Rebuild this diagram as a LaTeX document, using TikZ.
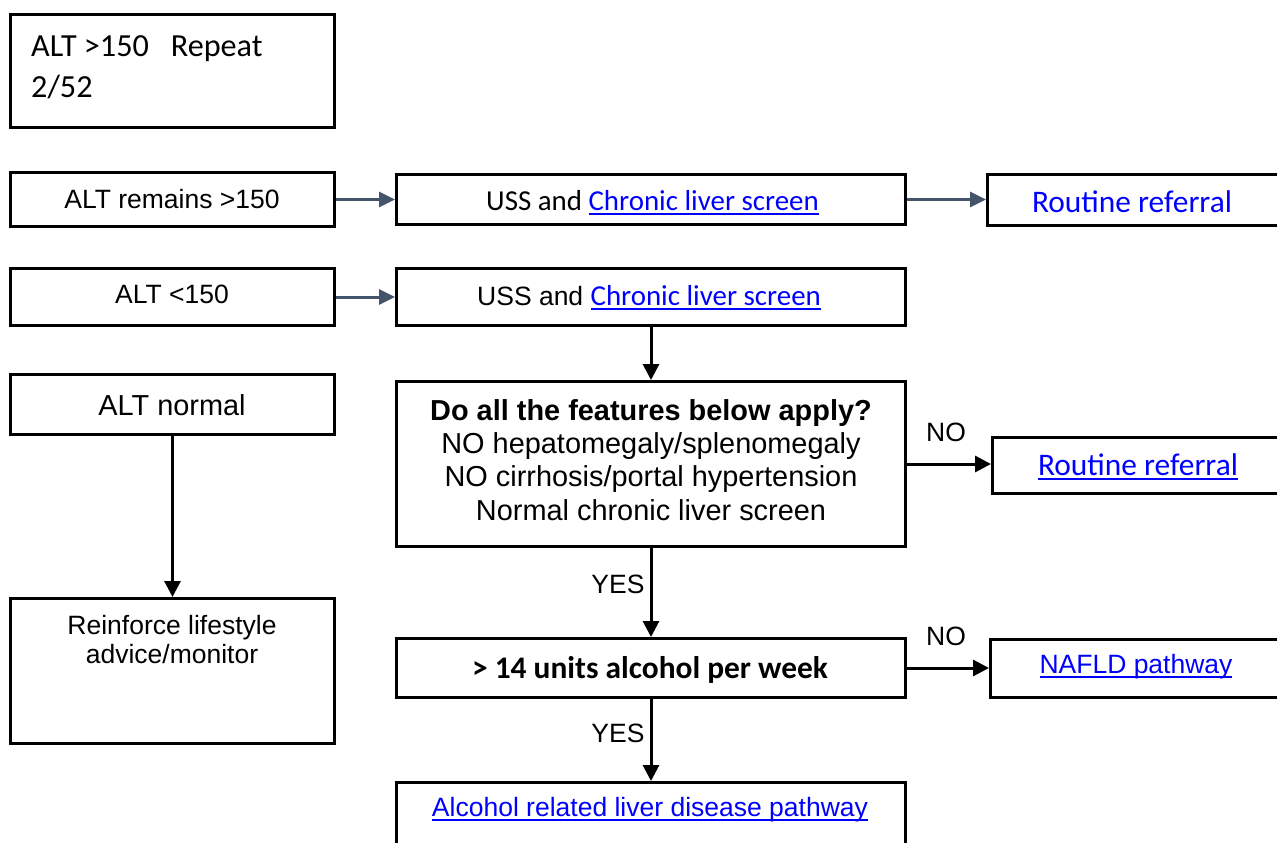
\documentclass[tikz,border=0pt]{standalone}
\usepackage{fontspec}
\newfontfamily\arialf{Liberation Sans}
\newfontfamily\calf{Carlito}
\usetikzlibrary{arrows.meta}
\definecolor{linkblue}{RGB}{0,0,255}
\definecolor{arrgray}{RGB}{68,84,106}
\newsavebox{\lnkbox}
\newcommand{\lnk}[1]{{\color{linkblue}\sbox{\lnkbox}{#1}\rlap{\rule[-4.5pt]{\wd\lnkbox}{1.8pt}}\usebox{\lnkbox}}}
\tikzset{
  box/.style={draw=black, line width=3pt, rectangle, inner sep=0pt},
  blk/.style={line width=3pt, draw=black, -{Triangle[length=16pt,width=16pt]}},
  gry/.style={line width=3pt, draw=arrgray, -{Triangle[length=16pt,width=15pt]}},
  txt/.style={inner sep=0pt, anchor=base},
  txtl/.style={inner sep=0pt, anchor=base west},
  asmall/.style={font=\arialf\fontsize{26.5}{30}\selectfont},
  abig/.style={font=\arialf\fontsize{28.9}{33}\selectfont},
  abigb/.style={font=\arialf\bfseries\fontsize{28.9}{33}\selectfont},
  csmall/.style={font=\calf\fontsize{28.9}{33}\selectfont},
  cbig/.style={font=\calf\fontsize{31.4}{36}\selectfont},
  cbox/.style={font=\calf\fontsize{32.2}{37}\selectfont},
  cbigb/.style={font=\calf\bfseries\fontsize{31.4}{36}\selectfont},
}
\begin{document}
\begin{tikzpicture}[x=1pt,y=-1pt]
\useasboundingbox (0,0) rectangle (1277,843);
\clip (0,0) rectangle (1277,843);
% boxes
\node[box, minimum width=324pt, minimum height=113pt] (b1) at (172.5,71) {};
\node[box, minimum width=324pt, minimum height=54pt] (remains) at (172.5,199.5) {};
\node[box, minimum width=509pt, minimum height=50pt] (uss1) at (651,199.5) {};
\node[box, minimum width=400pt, minimum height=51pt] (rr1) at (1187.5,199.5) {};
\node[box, minimum width=324pt, minimum height=57pt] (lt) at (172.5,297) {};
\node[box, minimum width=509pt, minimum height=57pt] (uss2) at (651,297) {};
\node[box, minimum width=324pt, minimum height=60pt] (normal) at (172.5,404.5) {};
\node[box, minimum width=509pt, minimum height=165pt] (big) at (651,464) {};
\node[box, minimum width=400pt, minimum height=56pt] (rr2) at (1192.5,465.5) {};
\node[box, minimum width=324pt, minimum height=145pt] (reinf) at (172.5,671) {};
\node[box, minimum width=509pt, minimum height=59pt] (alc) at (651,668) {};
\node[box, minimum width=400pt, minimum height=58pt] (nafld) at (1190.5,668) {};
\node[box, minimum width=509pt, minimum height=120pt] (ald) at (651,842.5) {};
% texts
\node[txtl, cbox] (t1a) at (31,56.7) {ALT >150\ \ \ Repeat};
\node[txtl, cbox] (t1b) at (31,97) {2/52};
\node[txt, asmall] (t2) at (172,208.3) {ALT remains >150};
\node[txt, csmall] (t3) at (652.5,210.7) {USS and \lnk{Chronic liver screen}};
\node[txt, cbig, text=linkblue] (t4) at (1132,212.3) {Routine referral};
\node[txt, asmall] (t5) at (172,303.3) {ALT <150};
\node[txt, csmall] (t6) at (649,305.7) {{\arialf\fontsize{26.5}{30}\selectfont USS and }\lnk{Chronic liver screen}};
\node[txt, abig] (t7) at (172,415) {ALT normal};
\node[txt, abigb] (t8a) at (651,420) {Do all the features below apply?};
\node[txt, abig] (t8b) at (651,453.3) {NO hepatomegaly/splenomegaly};
\node[txt, abig] (t8c) at (651,486.7) {NO cirrhosis/portal hypertension};
\node[txt, abig] (t8d) at (651,520) {Normal chronic liver screen};
\node[txt, asmall] (no1) at (946,441.7) {NO};
\node[txt, cbig] (t9) at (1138,475) {\lnk{Routine referral}};
\node[txt, asmall] (yes1) at (618,593.3) {YES};
\node[txt, asmall] (t10a) at (172,634.3) {Reinforce lifestyle};
\node[txt, asmall] (t10b) at (172,663.3) {advice/monitor};
\node[txt, cbigb] (t11) at (650,678.3) {> 14 units alcohol per week};
\node[txt, asmall] (no2) at (946,645) {NO};
\node[txt, asmall] (t12) at (1136,673.3) {\lnk{NAFLD pathway}};
\node[txt, asmall] (yes2) at (618,742.7) {YES};
\node[txt, asmall] (t13) at (650,816) {\lnk{Alcohol related liver disease pathway}};
% connectors
\draw[gry] (remains.east) -- (uss1.west);
\draw[gry] (uss1.east) -- (rr1.west);
\draw[gry] (lt.east) -- (uss2.west);
\draw[blk] (uss2.south) -- (big.north);
\draw[blk] (big.east) -- (rr2.west |- big.east);
\draw[blk] (big.south) -- (alc.north);
\draw[blk] (alc.east) -- (nafld.west);
\draw[blk] (alc.south) -- (ald.north);
\draw[blk] (normal.south) -- (reinf.north);
\end{tikzpicture}
\end{document}
